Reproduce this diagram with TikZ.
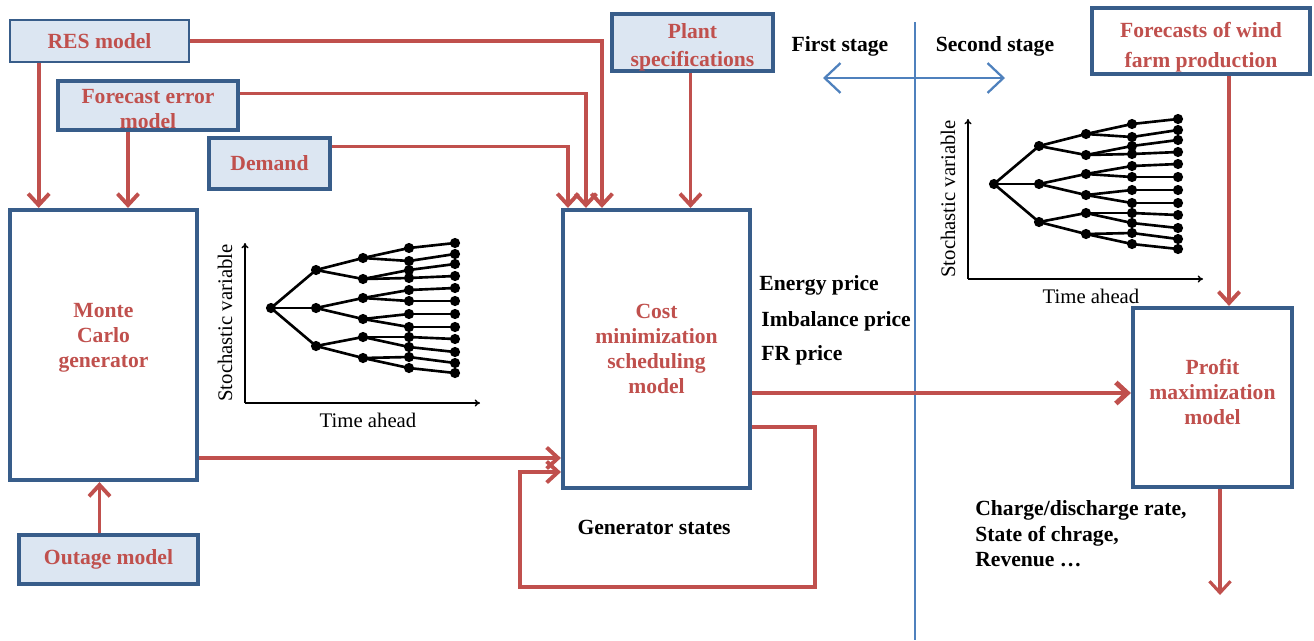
\documentclass[tikz,border=0pt]{standalone}
\usepackage{fontspec}
\setmainfont{Liberation Serif}
\usepackage{tikz}
\usetikzlibrary{arrows.meta,calc}
\definecolor{flowred}{RGB}{192,80,77}
\definecolor{boxblue}{RGB}{56,93,138}
\definecolor{boxfill}{RGB}{220,230,242}
\definecolor{stageblue}{RGB}{79,129,189}

% scenario tree: #1 = root position, #2 = prefix for the label names
\newcommand{\scentree}[2]{%
  \begin{scope}[shift={#1}]
    % axes
    \draw[line width=0.8pt, -{To[length=3pt,width=4pt]}] (-26,95) -- (209,95);
    \draw[line width=0.8pt, -{To[length=3pt,width=4pt]}] (-26,95) -- (-26,-65);
    \node[axlab, rotate=90] (#2yl) at (-46,15) {Stochastic variable};
    \node[axlab] (#2xl) at (97,112) {Time ahead};
    % branches
    \foreach \a in {-38,0,38}
      \draw[branch] (0,0) -- (45,\a);
    \foreach \a/\b/\c in {-38/-50/-29, 0/-10/11, 38/29/50}{
      \draw[branch] (45,\a) -- (92,\b);
      \draw[branch] (45,\a) -- (92,\c);
      \fill (45,\a) circle (2.9pt);}
    \foreach \a/\b/\c in {-50/-60/-47, -29/-38/-30, -10/-18/-7, 11/6/19, 29/29/39, 50/49/60}{
      \draw[branch] (92,\a) -- (138,\b);
      \draw[branch] (92,\a) -- (138,\c);
      \fill (92,\a) circle (2.9pt);}
    \foreach \a/\b in {-60/-65, -47/-54, -38/-44, -30/-32, -18/-20, -7/-7, 6/6, 19/19, 29/31, 39/44, 49/55, 60/65}{
      \draw[branch] (138,\a) -- (184,\b);
      \fill (138,\a) circle (2.9pt);
      \fill (184,\b) circle (2.9pt);}
    \fill (0,0) circle (2.9pt);
  \end{scope}}

\begin{document}
\begin{tikzpicture}[x=0.02cm, y=-0.02cm,
    model/.style={draw=boxblue, line width=2.4pt, fill=white, text=flowred,
      font=\fontsize{12.3}{14.2}\selectfont\bfseries, align=center, inner sep=0pt},
    input/.style={model, fill=boxfill},
    flow/.style={draw=flowred, line width=2.2pt, -{Straight Barb[length=6.5pt,width=12pt]}},
    lbl/.style={font=\fontsize{12.3}{14.5}\selectfont\bfseries, inner sep=0pt},
    axlab/.style={font=\fontsize{11.8}{13}\selectfont, inner sep=0pt},
    branch/.style={line width=1.5pt},
    stage/.style={draw=stageblue, line width=1pt}]
  \useasboundingbox (0,0) rectangle (1314,640);

  % Input models
  \node[input, line width=1.5pt, minimum width=3.58cm, minimum height=0.84cm] (res) at (99.5,41) {RES model};
  \node[input, minimum width=3.6cm, minimum height=0.98cm] (fcerr) at (148,105.5) {\rule{0pt}{12pt}Forecast error\\model};
  \node[input, minimum width=2.42cm, minimum height=1.02cm] (demand) at (269.5,163.5) {Demand};
  \node[input, minimum width=3.58cm, minimum height=0.98cm] (outage) at (108.5,559.5) {Outage model};
  \node[input, minimum width=3.22cm, minimum height=1.14cm] (plant) at (692.5,42.5) {\rule{0pt}{14pt}Plant\\[1.5pt]specifications};
  \node[model, line width=2.8pt, minimum width=4.36cm, minimum height=1.32cm] (wind) at (1201,41) {\rule{0pt}{16pt}Forecasts of wind\\[3pt]farm production};

  % Main blocks
  \node[model, minimum width=3.74cm, minimum height=5.4cm] (mc) at (103.5,345) {Monte\\Carlo\\generator\rule[-10.7pt]{0pt}{1pt}};
  \node[model, minimum width=3.74cm, minimum height=5.56cm] (cost) at (656.5,349) {Cost\\minimization\\scheduling\\model};
  \node[model, minimum width=3.18cm, minimum height=3.58cm] (profit) at (1212.5,397.5) {Profit\\maximization\\model\rule[-6.8pt]{0pt}{1pt}};

  % Stage separation
  \coordinate (stagetop) at (915,22);
  \coordinate (stagebot) at (915,640);
  \coordinate (firstend) at (823,78);
  \coordinate (secondend) at (1005,78);
  \draw[stage] (stagetop) -- (stagebot);
  \draw[stage, line width=1.3pt, {Straight Barb[length=9pt,width=17pt]}-{Straight Barb[length=9pt,width=17pt]}] (firstend) -- (secondend);
  \node[lbl] (first) at (840,46) {First stage};
  \node[lbl] (second) at (995,46) {Second stage};

  % Scenario trees
  \scentree{(271,308)}{lt}
  \scentree{(994,184)}{rt}

  % Inputs into the scheduling model
  \draw[flow] (res.east) -| ($(cost.north west)+(41,0)$);
  \draw[flow] ($(fcerr.east)+(0,-12)$) -| ($(cost.north west)+(25,0)$);
  \draw[flow] ($(demand.east)+(0,-17)$) -| ($(cost.north west)+(7,0)$);
  \draw[flow] ($(plant.south)+(-2,0)$) coordinate (p1) -- (p1 |- cost.north);

  % Inputs into the Monte Carlo generator
  \draw[flow] ($(res.south west)+(30,0)$) coordinate (r1) -- (r1 |- mc.north);
  \draw[flow] ($(fcerr.south)+(-20,0)$) coordinate (f1) -- (f1 |- mc.north);
  \draw[flow] ($(outage.north)+(-9,0)$) coordinate (o1) -- (o1 |- mc.south);

  % Scenarios and feedback
  \draw[flow] ($(mc.east)+(0,113)$) coordinate (m1) -- (m1 -| cost.west);
  \draw[flow] ($(cost.east)+(0,78)$) -- ++(63,0) -- ++(0,160) -| ($(cost.west)+(-41,123)$) -- ($(cost.west)+(0,123)$);
  \node[lbl] (genstates) at (654,527) {Generator states};

  % Prices to the second stage
  \draw[flow, line width=2.8pt] ($(cost.east)+(0,44)$) coordinate (c1) -- (c1 -| profit.west);
  \node[lbl, anchor=west] (energy) at (759,285) {Energy price};
  \node[lbl, anchor=west] (imbalance) at (761,321) {Imbalance price};
  \node[lbl, anchor=west] (frprice) at (761,355) {FR price};

  % Second stage
  \draw[flow] ($(wind.south)+(28,0)$) coordinate (w1) -- (w1 |- profit.north);
  \coordinate (out) at (1220,595);
  \draw[flow, line width=1.8pt] (profit.south -| out) -- (out);
  \node[lbl, anchor=west, align=left] (results) at (975,534) {Charge/discharge rate,\\State of chrage,\\Revenue \dots};
\end{tikzpicture}
\end{document}
